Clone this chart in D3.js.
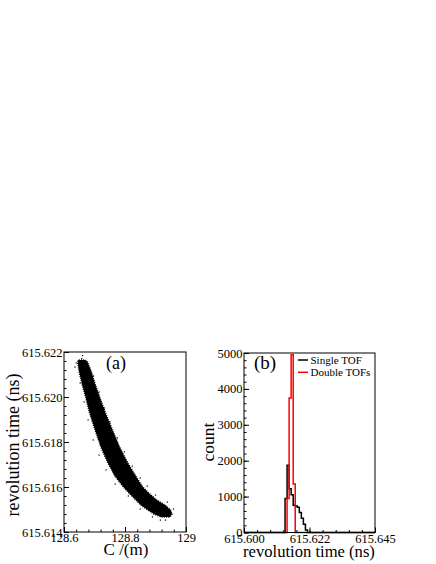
<!DOCTYPE html>
<html>
<head>
<meta charset="utf-8">
<script src="https://cdn.jsdelivr.net/npm/d3@7"></script>
<style>
  body { margin: 0; background: #fff; }
  svg text { font-family: "Liberation Serif", "Times New Roman", serif; fill: #000; }
</style>
</head>
<body>
<script>
'use strict'

// (a) dense scatter band, read row by row: C range at each revolution time
var bandT     = [615.62164, 615.62156, 615.62111, 615.62053, 615.62000, 615.61929, 615.61853, 615.61778, 615.61707,
                 615.61649, 615.61600, 615.61569, 615.61542, 615.61520, 615.61498, 615.61480, 615.61467]
var bandCLow  = [128.647, 128.645, 128.650, 128.660, 128.671, 128.684, 128.702, 128.721, 128.744,
                 128.767, 128.795, 128.816, 128.836, 128.852, 128.875, 128.895, 128.918]
var bandCHigh = [128.670, 128.677, 128.690, 128.703, 128.717, 128.736, 128.759, 128.782, 128.809,
                 128.835, 128.858, 128.881, 128.904, 128.931, 128.949, 128.954, 128.947]

// stray points around the band edges
var strayC = [128.661, 128.658, 128.640, 128.636, 128.697, 128.653, 128.715, 128.666, 128.732, 128.679,
              128.751, 128.696, 128.775, 128.715, 128.798, 128.738, 128.824, 128.768, 128.850, 128.811,
              128.873, 128.850, 128.900, 128.890, 128.939, 128.959, 128.933, 128.916]
var strayT = [615.62184, 615.62171, 615.62151, 615.62133, 615.62093, 615.62062, 615.62022, 615.61978, 615.61951, 615.61898,
              615.61889, 615.61809, 615.61818, 615.61742, 615.61756, 615.61676, 615.61693, 615.61613, 615.61640, 615.61560,
              615.61604, 615.61502, 615.61564, 615.61467, 615.61533, 615.61502, 615.61453, 615.61453]

// (b) histograms
var binStart     = 615.6141
var binWidth     = 0.0007
var singleCounts = [950, 1870, 1220, 1050, 760, 740, 700, 560, 400, 230, 70]
var doubleCounts = [0, 950, 3750, 4950, 1350]

var aXTicks  = [128.6, 128.8, 129]
var aYTicks  = [615.614, 615.616, 615.618, 615.620, 615.622]
var bXTicks  = [615.600, 615.6225, 615.645]
var bXLabels = ['615.600', '615.622', '615.645']
var bYTicks  = [0, 1000, 2000, 3000, 4000, 5000]

var FONT = '"Liberation Serif", "Times New Roman", serif'

var svg = d3.select('body').append('svg')
  .attr('width', 436)
  .attr('height', 564)

var xA = d3.scaleLinear().domain([128.6, 129]).range([64, 186])
var yA = d3.scaleLinear().domain([615.614, 615.622]).range([532, 352])
var xB = d3.scaleLinear().domain([615.600, 615.645]).range([244, 375])
var yB = d3.scaleLinear().domain([0, 5000]).range([532.5, 353])

function styleAxis (g, size) {
  g.attr('font-family', FONT).attr('font-size', size)
  g.selectAll('text').style('font-family', FONT)
  g.select('.domain').remove()
  g.selectAll('line').attr('stroke', '#000')
}

// ROOT style: ticks inside, only on left and bottom
function drawAxes (x, y, xMajor, xMinor, yMajor, yMinor, xFmt, yFmt, xPad) {
  svg.append('g').attr('transform', 'translate(0,' + y.range()[0] + ')')
    .call(d3.axisBottom(x).tickValues(xMinor).tickSize(-2.5).tickFormat(''))
    .call(styleAxis, 12.5)
  svg.append('g').attr('transform', 'translate(0,' + y.range()[0] + ')')
    .call(d3.axisBottom(x).tickValues(xMajor).tickSize(-5).tickSizeOuter(0).tickPadding(xPad).tickFormat(xFmt))
    .call(styleAxis, 12.5)
  svg.append('g').attr('transform', 'translate(' + x.range()[0] + ',0)')
    .call(d3.axisLeft(y).tickValues(yMinor).tickSize(-2.5).tickFormat(''))
    .call(styleAxis, 12.5)
  svg.append('g').attr('transform', 'translate(' + x.range()[0] + ',0)')
    .call(d3.axisLeft(y).tickValues(yMajor).tickSize(-5).tickSizeOuter(0).tickPadding(1.5).tickFormat(yFmt))
    .call(styleAxis, 12.5)
  svg.append('rect')
    .attr('x', x.range()[0]).attr('y', y.range()[1])
    .attr('width', x.range()[1] - x.range()[0])
    .attr('height', y.range()[0] - y.range()[1])
    .attr('fill', 'none').attr('stroke', '#000').attr('stroke-width', 1)
}

// ---- panel (a) ----
var band = bandT.map(function (t, i) { return { t: t, lo: bandCLow[i], hi: bandCHigh[i] } })

svg.append('path')
  .datum(band)
  .attr('d', d3.area()
    .y(function (d) { return yA(d.t) })
    .x0(function (d) { return xA(d.lo) })
    .x1(function (d) { return xA(d.hi) }))
  .attr('fill', '#000')
  .attr('stroke', '#000')
  .attr('stroke-width', 1.6)
  .attr('stroke-dasharray', '1,1.2')

svg.append('g').selectAll('rect')
  .data(strayC)
  .enter().append('rect')
  .attr('x', function (d) { return xA(d) - 0.6 })
  .attr('y', function (d, i) { return yA(strayT[i]) - 0.6 })
  .attr('width', 1.2)
  .attr('height', 1.2)
  .attr('fill', '#000')

drawAxes(xA, yA, aXTicks, d3.range(128.6, 129.001, 0.04), aYTicks, d3.range(615.614, 615.6221, 0.0004),
  function (d) { return d === 129 ? '129' : d3.format('.1f')(d) }, d3.format('.3f'), 1)

svg.append('text').attr('x', 106).attr('y', 369).attr('font-size', 18).text('(a)')
svg.append('text')
  .attr('transform', 'translate(19,445) rotate(-90)')
  .attr('text-anchor', 'middle').attr('font-size', 18)
  .text('revolution time (ns)')
svg.append('text').attr('x', 126).attr('y', 555)
  .attr('text-anchor', 'middle').attr('font-size', 17)
  .text('C /(m)')

// ---- panel (b) ----
function histPoints (counts) {
  var pts = [[xB.domain()[0], 0]]
  counts.forEach(function (c, i) { pts.push([binStart + i * binWidth, c]) })
  pts.push([binStart + counts.length * binWidth, 0])
  pts.push([xB.domain()[1], 0])
  return pts
}

var step = d3.line()
  .x(function (d) { return xB(d[0]) })
  .y(function (d) { return yB(d[1]) })
  .curve(d3.curveStepAfter)

svg.append('path').datum(histPoints(singleCounts))
  .attr('d', step).attr('fill', 'none').attr('stroke', '#000').attr('stroke-width', 1.5)
svg.append('path').datum(histPoints(doubleCounts))
  .attr('d', step).attr('fill', 'none').attr('stroke', '#ff0000').attr('stroke-width', 1.5)

drawAxes(xB, yB, bXTicks, d3.range(615.600, 615.6451, 0.0045), bYTicks, d3.range(0, 5001, 200),
  function (d, i) { return bXLabels[i] }, d3.format('d'), 2)

svg.append('text').attr('x', 254).attr('y', 369).attr('font-size', 19).text('(b)')
svg.append('text')
  .attr('transform', 'translate(214,442) rotate(-90)')
  .attr('text-anchor', 'middle').attr('font-size', 17.5)
  .text('count')
svg.append('text').attr('x', 309).attr('y', 557)
  .attr('text-anchor', 'middle').attr('font-size', 16.6)
  .text('revolution time (ns)')

// legend
var legend = [{ name: 'Single TOF', color: '#000' }, { name: 'Double TOFs', color: '#ff0000' }]
var lg = svg.append('g').selectAll('g')
  .data(legend)
  .enter().append('g')
  .attr('transform', function (d, i) { return 'translate(298,' + (360 + i * 12.3) + ')' })
lg.append('line').attr('x1', 0).attr('x2', 10)
  .attr('stroke', function (d) { return d.color }).attr('stroke-width', 1.5)
lg.append('text').attr('x', 12.5).attr('y', 3.6).attr('font-size', 11)
  .text(function (d) { return d.name })
</script>
</body>
</html>
